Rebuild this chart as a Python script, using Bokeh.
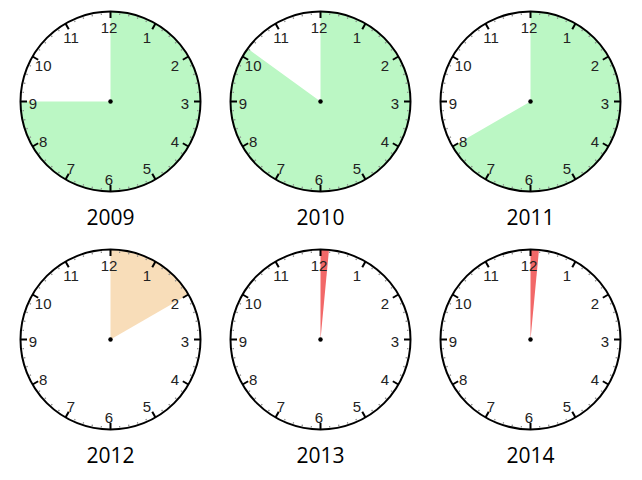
import numpy as np
from bokeh.plotting import figure
from bokeh.models import Range1d
from bokeh.core.properties import value
from bokeh.embed import file_html
from bokeh.resources import INLINE

# ---- data ----
years = ["2009", "2010", "2011", "2012", "2013", "2014"]
hours = [9.0, 10.2, 8.0, 2.0, 0.18, 0.18]          # wedge from 12 o'clock, clockwise
colors = ["#BBF7C4", "#BBF7C4", "#BBF7C4", "#F8DDB9", "#F26868", "#F26868"]
hour_labels = ["12", "1", "2", "3", "4", "5", "6", "7", "8", "9", "10", "11"]

# ---- layout (page-pixel units, y up) ----
W, H = 634, 472
R = 90
col_x = [110, 320, 530]
row_y = [H - 101, H - 339]

cx, cy = [], []
for i in range(len(years)):
    cx.append(col_x[i % 3])
    cy.append(row_y[i // 3])
cx = np.array(cx, float)
cy = np.array(cy, float)

p = figure(width=W, height=H, x_range=Range1d(0, W), y_range=Range1d(0, H),
           output_backend="svg", toolbar_location=None, min_border=0,
           x_axis_location=None, y_axis_location=None)
p.grid.visible = False
p.outline_line_color = None
p.background_fill_color = "white"

# face
p.circle(cx, cy, radius=R, fill_color="white", line_color=None)

# wedges
p.wedge(x=cx, y=cy, radius=R,
        start_angle=[np.deg2rad(90 - 30 * h) for h in hours],
        end_angle=[np.deg2rad(90)] * len(hours),
        fill_color=colors, line_color=None)

# ticks
mx0, my0, mx1, my1 = [], [], [], []
hx0, hy0, hx1, hy1 = [], [], [], []
for x, y in zip(cx, cy):
    for m in range(60):
        a = np.deg2rad(90 - 6 * m)
        if m % 5 == 0:
            hx0.append(x + (R - 6.5) * np.cos(a)); hy0.append(y + (R - 6.5) * np.sin(a))
            hx1.append(x + R * np.cos(a)); hy1.append(y + R * np.sin(a))
        else:
            mx0.append(x + (R - 3) * np.cos(a)); my0.append(y + (R - 3) * np.sin(a))
            mx1.append(x + (R - 1.5) * np.cos(a)); my1.append(y + (R - 1.5) * np.sin(a))
p.segment(mx0, my0, mx1, my1, line_color="#8a8a8a", line_width=1.2)
p.segment(hx0, hy0, hx1, hy1, line_color="black", line_width=2)

# outline
p.circle(cx, cy, radius=R, fill_color=None, line_color="black", line_width=2)

# hour numbers
tx, ty, tt = [], [], []
for x, y in zip(cx, cy):
    for k, lab in enumerate(hour_labels):
        a = np.deg2rad(90 - 30 * k)
        tx.append(x - 1.5 + 76 * np.cos(a))
        ty.append(y - 2 + 76 * np.sin(a))
        tt.append(lab)
p.text(tx, ty, text=tt, text_align="center", text_baseline="middle",
       text_font=value("Liberation Sans"), text_font_size="15px", text_color="#222222")

# centre dot
p.scatter(cx, cy, size=4.5, fill_color="black", line_color=None)

# year labels
p.text(cx, cy - 115, text=years, text_align="center", text_baseline="middle",
       text_font=value("Open Sans"), text_font_size="21px", text_color="black")

open("out.html", "w").write(file_html(p, INLINE))
